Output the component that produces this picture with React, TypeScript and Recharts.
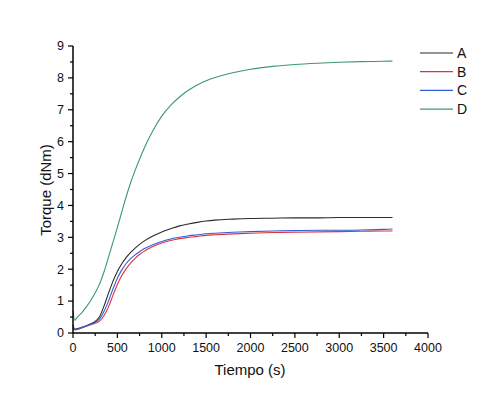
import React from "react";
import { LineChart, Line, XAxis, YAxis } from "recharts";

const times = [0, 20, 50, 100, 150, 200, 250, 300, 350, 400, 450, 500, 550, 600, 650, 700, 750, 800, 900, 1000, 1100, 1200, 1300, 1400, 1500, 1600, 1800, 2000, 2250, 2500, 2750, 3000, 3250, 3500, 3600];

const seriesA = [0.25, 0.12, 0.14, 0.18, 0.23, 0.29, 0.36, 0.52, 0.85, 1.25, 1.62, 1.93, 2.17, 2.37, 2.53, 2.66, 2.78, 2.88, 3.04, 3.17, 3.27, 3.36, 3.42, 3.47, 3.51, 3.54, 3.57, 3.59, 3.6, 3.61, 3.61, 3.62, 3.62, 3.62, 3.62];
const seriesB = [0.12, 0.1, 0.12, 0.16, 0.21, 0.26, 0.31, 0.37, 0.55, 0.82, 1.18, 1.52, 1.8, 2.02, 2.2, 2.34, 2.46, 2.56, 2.71, 2.82, 2.9, 2.96, 3.0, 3.03, 3.06, 3.08, 3.11, 3.13, 3.15, 3.16, 3.17, 3.18, 3.19, 3.2, 3.2];
const seriesC = [0.15, 0.1, 0.12, 0.17, 0.22, 0.28, 0.34, 0.44, 0.68, 1.0, 1.38, 1.72, 1.98, 2.18, 2.33, 2.45, 2.55, 2.64, 2.77, 2.87, 2.95, 3.0, 3.05, 3.08, 3.11, 3.13, 3.16, 3.18, 3.2, 3.21, 3.22, 3.22, 3.23, 3.25, 3.26];
const seriesD = [0.7, 0.4, 0.5, 0.64, 0.82, 1.02, 1.26, 1.54, 1.92, 2.38, 2.84, 3.31, 3.8, 4.28, 4.72, 5.1, 5.45, 5.78, 6.34, 6.8, 7.14, 7.4, 7.61, 7.78, 7.91, 8.01, 8.16, 8.27, 8.36, 8.42, 8.46, 8.49, 8.51, 8.52, 8.53];

const seriesNames = ["A", "B", "C", "D"];
const colors = ["#2b2b2b", "#e0323c", "#2d5fd6", "#3a9a6c"];

const xTicks = Array.from({ length: 17 }, (_, i) => i * 250);
const yTicks = Array.from({ length: 19 }, (_, i) => i * 0.5);

const data = times.map((t, i) => ({
  t,
  A: seriesA[i],
  B: seriesB[i],
  C: seriesC[i],
  D: seriesD[i],
}));

const font = "'Liberation Sans', Arial, sans-serif";

const XTick = (props: any) => {
  const { x, y, payload } = props;
  const major = payload.value % 500 === 0;
  return (
    <g>
      <line x1={x} x2={x} y1={y} y2={y + (major ? 5 : 3)} stroke="#000" strokeWidth={1.2} />
      {major && (
        <text x={x} y={y + 19} textAnchor="middle" fontSize={12.5} fontFamily={font} fill="#111">
          {payload.value}
        </text>
      )}
    </g>
  );
};

const YTick = (props: any) => {
  const { x, y, payload } = props;
  const major = payload.value % 1 === 0;
  return (
    <g>
      <line x1={x} x2={x - (major ? 5 : 3)} y1={y} y2={y} stroke="#000" strokeWidth={1.2} />
      {major && (
        <text x={x - 9} y={y} dy="0.35em" textAnchor="end" fontSize={12.5} fontFamily={font} fill="#111">
          {payload.value}
        </text>
      )}
    </g>
  );
};

export default function App() {
  return (
    <div style={{ position: "absolute", left: 0, top: 0, width: 501, height: 399, background: "#fff" }}>
      <LineChart width={501} height={399} data={data} margin={{ top: 46, right: 73, bottom: 26, left: 33 }}>
        <XAxis
          dataKey="t"
          type="number"
          domain={[0, 4000]}
          ticks={xTicks}
          interval={0}
          height={40}
          tickSize={0}
          tickMargin={0}
          tickLine={false}
          tick={<XTick />}
          axisLine={{ stroke: "#000", strokeWidth: 1.5 }}
          label={{
            content: () => (
              <text x={250} y={375} textAnchor="middle" fontSize={15} fontFamily={font} fill="#111">
                Tiempo (s)
              </text>
            ),
          }}
        />
        <YAxis
          type="number"
          domain={[0, 9]}
          ticks={yTicks}
          interval={0}
          width={40}
          tickSize={0}
          tickMargin={0}
          tickLine={false}
          tick={<YTick />}
          axisLine={{ stroke: "#000", strokeWidth: 1.5 }}
          label={{
            content: () => (
              <text
                x={51}
                y={190}
                textAnchor="middle"
                fontSize={15}
                fontFamily={font}
                fill="#111"
                transform="rotate(-90 51 190)"
              >
                Torque (dNm)
              </text>
            ),
          }}
        />
        {seriesNames.map((name, i) => (
          <Line
            key={name}
            dataKey={name}
            type="monotone"
            stroke={colors[i]}
            strokeWidth={1.1}
            dot={false}
            isAnimationActive={false}
          />
        ))}
      </LineChart>
      <svg width={80} height={80} style={{ position: "absolute", left: 415, top: 42 }}>
        {seriesNames.map((name, i) => (
          <g key={name}>
            <line x1={5} x2={38} y1={11 + i * 18.7} y2={11 + i * 18.7} stroke={colors[i]} strokeWidth={1.2} />
            <text x={42} y={11 + i * 18.7} dy="0.36em" fontSize={14} fontFamily={font} fill="#111">
              {name}
            </text>
          </g>
        ))}
      </svg>
    </div>
  );
}
